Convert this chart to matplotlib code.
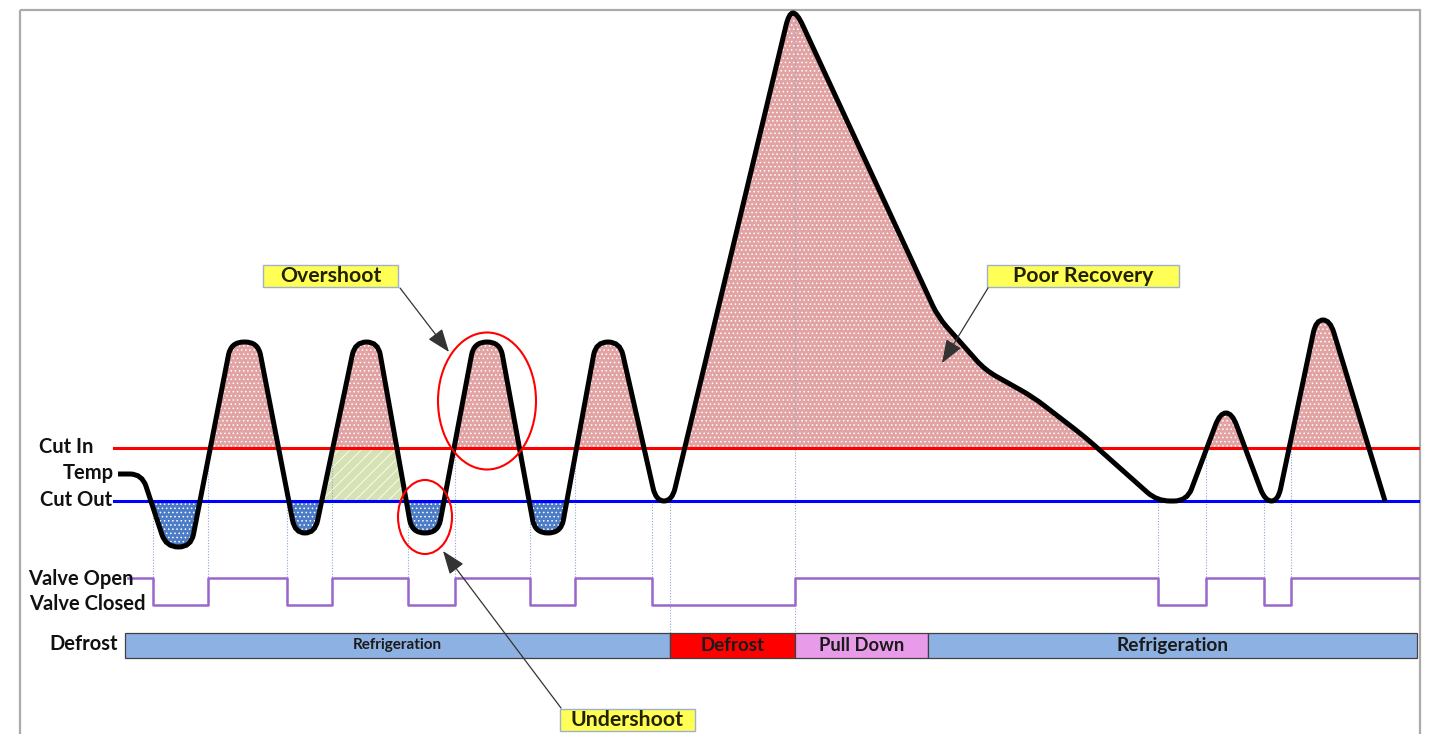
import matplotlib
matplotlib.use("Agg")
import matplotlib.pyplot as plt
from matplotlib.path import Path
from matplotlib.patches import Rectangle, Ellipse, PathPatch
import numpy as np

plt.rcParams["font.family"] = ["Lato", "DejaVu Sans"]
plt.rcParams["hatch.linewidth"] = 0.6

# levels (screen units, grows downwards)
cut_in = 448
cut_out = 501
valve_open = 578
valve_closed = 605

# temperature trace: corner points of the curve
temp_t = [118, 142, 166, 191, 231, 258, 295, 315, 355, 378, 412, 438,
          474, 500, 535, 561, 596, 620, 656, 672, 789, 797, 938, 985,
          1033, 1085, 1157, 1187, 1220, 1232, 1265, 1278, 1316, 1330, 1385]
temp_v = [474, 474, 547, 547, 342, 342, 533, 533, 342, 342, 533, 533,
          342, 342, 533, 533, 342, 342, 501, 501, 13, 13, 317, 370,
          397, 437, 501, 501, 413, 413, 501, 501, 320, 320, 501]

# solenoid valve switching times (1 = open, 0 = closed)
valve_t = [128, 153, 208, 287, 332, 408, 455, 530, 575, 652, 795,
           1158, 1206, 1264, 1291, 1418]
valve_s = [1, 0, 1, 0, 1, 0, 1, 0, 1, 0, 1, 0, 1, 0, 1, 1]

# defrost state bar
phase_names = ["Refrigeration", "Defrost", "Pull Down", "Refrigeration"]
phase_start = [125, 670, 795, 928]
phase_end = [670, 795, 928, 1417]
phase_colors = ["#8DB1E2", "#FF0000", "#E89BE8", "#8DB1E2"]
phase_fsize = [11, 13.5, 13.2, 13.8]


def rounded_path(xs, ys, r):
    # polyline with rounded corners (quadratic bezier)
    pts = np.column_stack([xs, ys]).astype(float)
    verts = [pts[0]]
    codes = [Path.MOVETO]
    for i in range(1, len(pts) - 1):
        p, c, n = pts[i - 1], pts[i], pts[i + 1]
        d1 = c - p
        d2 = n - c
        l1 = np.hypot(*d1)
        l2 = np.hypot(*d2)
        r1 = min(r, l1 / 2)
        r2 = min(r, l2 / 2)
        verts += [c - d1 / l1 * r1, c, c + d2 / l2 * r2]
        codes += [Path.LINETO, Path.CURVE3, Path.CURVE3]
    verts.append(pts[-1])
    codes.append(Path.LINETO)
    return verts, codes


fig = plt.figure(figsize=(14.33, 7.34), dpi=100)
ax = fig.add_axes([0, 0, 1, 1])
ax.set_xlim(0, 1433)
ax.set_ylim(734, 0)
ax.axis("off")

# frame
ax.add_patch(Rectangle((20, 10), 1400, 800, fill=False, edgecolor="#ABABAB", lw=1.6))

verts, codes = rounded_path(temp_t, temp_v, 13)
curve = Path(verts, codes)
x0, x1 = temp_t[0], temp_t[-1]
below = Path(verts + [(x1, 800), (x0, 800), (x0, 800)],
             codes + [Path.LINETO, Path.LINETO, Path.CLOSEPOLY])
above = Path(verts + [(x1, -20), (x0, -20), (x0, -20)],
             codes + [Path.LINETO, Path.LINETO, Path.CLOSEPOLY])

# overshoot area (above cut in)
p = Rectangle((x0, 0), x1 - x0, cut_in, facecolor="#E1A3A3", edgecolor="white",
              lw=0, hatch="....", zorder=1)
ax.add_patch(p)
p.set_clip_path(below, ax.transData)

# undershoot area (below cut out)
p = Rectangle((x0, cut_out), x1 - x0, 300, facecolor="#4D7CC6", edgecolor="white",
              lw=0, hatch="....", zorder=1)
ax.add_patch(p)
p.set_clip_path(above, ax.transData)

# dead band between cut in and cut out
p = Rectangle((300, cut_in), 120, cut_out - cut_in, facecolor="#D6E1B4",
              edgecolor="white", lw=0, hatch="///", zorder=1)
ax.add_patch(p)
p.set_clip_path(below, ax.transData)

# dotted guide lines at valve switching
guide = dict(color="#8FA8D0", lw=0.8, ls=(0, (1, 1.5)), zorder=1.5)
for t, s in zip(valve_t[1:-1], valve_s[1:-1]):
    top = cut_in if s == 1 else cut_out
    if t == phase_start[2]:
        top = temp_v[20]
    ax.plot([t, t], [top, valve_closed], **guide)
ax.plot([phase_start[1]] * 2, [cut_out, 633], **guide)
ax.plot([phase_start[2]] * 2, [valve_closed, 633], **guide)

# set points
ax.plot([114, 1418], [cut_in, cut_in], color="#FF0000", lw=2.2, zorder=2)
ax.plot([114, 1418], [cut_out, cut_out], color="#0000FF", lw=2.2, zorder=2)

# temperature
ax.add_patch(PathPatch(curve, fill=False, edgecolor="black", lw=3.6,
                       capstyle="butt", zorder=3))

# valve
valve_y = [valve_open if s else valve_closed for s in valve_s]
ax.plot(valve_t, valve_y, drawstyle="steps-post", color="#9966CC", lw=1.8, zorder=2)

# defrost bar
for name, a, b, c, fs in zip(phase_names, phase_start, phase_end, phase_colors, phase_fsize):
    ax.add_patch(Rectangle((a, 633), b - a, 25, facecolor=c, edgecolor="#404040", lw=0.9, zorder=2))
    ax.text((a + b) / 2, 645.5, name, ha="center", va="center", fontsize=fs,
            fontweight="bold", color="#1A1A1A", zorder=3)

# left labels
lab_kw = dict(ha="right", va="center", fontsize=14.5, fontweight="bold", color="#111111")
ax.text(93, 447, "Cut In", **lab_kw)
ax.text(114, 473, "Temp", **lab_kw)
ax.text(112, 500, "Cut Out", **lab_kw)
ax.text(134, 579, "Valve Open", **lab_kw)
ax.text(146, 604, "Valve Closed", **lab_kw)
ax.text(118, 644, "Defrost", **lab_kw)

# callouts
ell_kw = dict(fill=False, edgecolor="#FF0000", lw=1.5, zorder=4)
ax.add_patch(Ellipse((487, 401), 98, 137, **ell_kw))
ax.add_patch(Ellipse((425, 517), 54, 74, **ell_kw))

box_kw = dict(facecolor="#FFFF55", edgecolor="#9DB2CC", lw=1.0, zorder=5)
arr = dict(arrowstyle="-|>,head_length=0.8,head_width=0.3", color="#333333", lw=0.9,
           mutation_scale=18, shrinkA=0, shrinkB=0)
callouts = [("Overshoot", (263, 265, 135, 22), (400, 288), (449, 352)),
            ("Poor Recovery", (987, 265, 192, 22), (988, 288), (942, 363)),
            ("Undershoot", (560, 709, 135, 22), (561, 708), (443, 551))]
for txt, (bx, by, bw, bh), start, end in callouts:
    ax.add_patch(Rectangle((bx, by), bw, bh, **box_kw))
    ax.text(bx + bw / 2, by + bh / 2 + 0.5, txt, ha="center", va="center", fontsize=15.3,
            fontweight="bold", color="#222200", zorder=6)
    ax.annotate("", xy=end, xytext=start, arrowprops=arr, zorder=6)

fig.savefig("out.png", dpi=100)
